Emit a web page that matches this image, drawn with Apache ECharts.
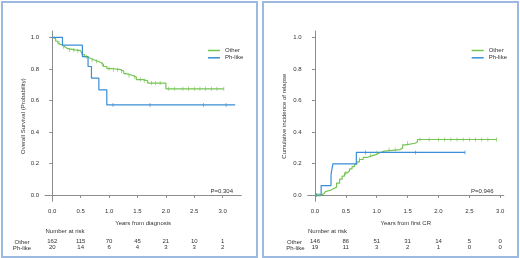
<!DOCTYPE html>
<html>
<head>
<meta charset="utf-8">
<script src="https://cdn.jsdelivr.net/npm/echarts@6/dist/echarts.min.js"></script>
<style>
  html, body { margin: 0; padding: 0; background: #fff; }
  #item { width: 520px; height: 258px; }
</style>
</head>
<body>
<div id="item"></div>
<script>
	var item = echarts.init(document.getElementById('item'));
	/*-- 左图：总生存 (时间, 生存率) --*/
	let osOther = [[0,1],[0.03,0.99],[0.06,0.975],[0.1,0.962],[0.13,0.952],[0.17,0.94],[0.22,0.928],[0.27,0.92],[0.4,0.915],[0.5,0.905],
		[0.53,0.89],[0.57,0.877],[0.62,0.866],[0.68,0.856],[0.74,0.848],[0.8,0.84],[0.86,0.828],[0.9,0.815],[0.96,0.802],[1.05,0.795],
		[1.2,0.785],[1.26,0.77],[1.3,0.758],[1.42,0.748],[1.48,0.732],[1.6,0.724],[1.68,0.71],[2.0,0.673],[3.02,0.673]];
	let osPh = [[0,1],[0.18,0.95],[0.53,0.878],[0.63,0.815],[0.69,0.741],[0.82,0.667],[0.96,0.571],[3.22,0.571]];
	let osOtherCensor = [0.12,0.2,0.3,0.38,0.45,0.6,0.7,0.78,0.88,1.0,1.08,1.15,1.22,1.35,1.45,1.55,1.62,1.75,1.82,1.9,2.05,2.15,2.3,2.4,2.5,2.6,2.7,2.8,2.9,3.02];
	let osPhCensor = [1.07,1.72,2.66,3.06];
	/*-- 右图：累积复发率 --*/
	let cirOther = [[0,0],[0.1,0.007],[0.14,0.014],[0.17,0.021],[0.2,0.03],[0.25,0.04],[0.3,0.05],[0.35,0.075],[0.4,0.1],[0.44,0.12],
		[0.48,0.14],[0.52,0.152],[0.56,0.165],[0.6,0.18],[0.64,0.195],[0.68,0.21],[0.72,0.225],[0.78,0.238],[0.84,0.25],[0.93,0.258],
		[1.0,0.268],[1.05,0.278],[1.12,0.288],[1.38,0.298],[1.42,0.318],[1.47,0.328],[1.62,0.338],[1.66,0.352],[2.94,0.352]];
	let cirPh = [[0,0],[0.1,0.06],[0.26,0.13],[0.29,0.197],[0.67,0.27],[2.43,0.27]];
	let cirOtherCensor = [0.02,0.05,0.08,0.5,0.72,0.9,1.0,1.2,1.3,1.5,1.7,1.85,2.0,2.1,2.2,2.3,2.4,2.5,2.6,2.7,2.8,2.94];
	let cirPhCensor = [0.02,0.82,1.63,2.43];
	/*-- 刻度 --*/
	let xTicksL = [0,0.5,1,1.5,2,2.5,3];
	let xTicksR = [0,0.5,1,1.5,2,2.5,3];
	let yTicks = [0,0.2,0.4,0.6,0.8,1];
	/*-- 风险人数 --*/
	let riskOtherL = [162,115,70,45,21,10,1];
	let riskPhL = [20,14,6,4,3,3,2];
	let riskOtherR = [146,86,51,31,14,5,0];
	let riskPhR = [19,11,3,2,1,0,0];

	let green = '#76c453', blue = '#3a8dd6', txt = '#333', axisC = '#8c8c8c';

	//删失点的高度取自阶梯曲线
	function stepAt(steps, t){
		let v = steps[0][1];
		for (let i = 0; i < steps.length; i++) { if (steps[i][0] <= t) v = steps[i][1]; }
		return v;
	}
	function censor(steps, times){ return times.map(function(t){ return [t, stepAt(steps, t)]; }); }

	function mainX(grid, min, max, ticks, name){
		return {
			type: 'value', gridIndex: grid, min: min, max: max,
			name: name, nameLocation: 'middle', nameGap: 19,
			nameTextStyle: { color: txt, fontSize: 6, fontFamily: 'Liberation Sans' },
			axisLine: { show: true, lineStyle: { color: axisC, width: 1 } },
			axisTick: { show: true, length: 3, customValues: ticks, lineStyle: { color: axisC } },
			axisLabel: { customValues: ticks, margin: 7, color: txt, fontSize: 6, fontFamily: 'Liberation Sans',
				formatter: function(v){ return v.toFixed(1); } },
			splitLine: { show: false }
		};
	}
	function riskX(grid, min, max, ticks, counts, offset){
		return {
			type: 'value', gridIndex: grid, min: min, max: max, position: 'bottom', offset: offset,
			axisLine: { show: false }, axisTick: { show: false }, splitLine: { show: false },
			axisLabel: { customValues: ticks, margin: 0, color: txt, fontSize: 6, fontFamily: 'Liberation Sans',
				formatter: function(v){ return String(counts[ticks.indexOf(v)]); } }
		};
	}
	function mainY(grid, name, gap){
		return {
			type: 'value', gridIndex: grid, min: -0.04, max: 1.04,
			name: name, nameLocation: 'middle', nameGap: gap,
			nameTextStyle: { color: txt, fontSize: 6, fontFamily: 'Liberation Sans' },
			axisLine: { show: true, lineStyle: { color: axisC, width: 1 } },
			axisTick: { show: true, length: 3, customValues: yTicks, lineStyle: { color: axisC } },
			axisLabel: { customValues: yTicks, margin: 6, color: txt, fontSize: 6, fontFamily: 'Liberation Sans',
				formatter: function(v){ return v.toFixed(1); } },
			splitLine: { show: false }
		};
	}
	function stepLine(name, data, color, x, y){
		return { name: name, type: 'line', step: 'end', xAxisIndex: x, yAxisIndex: y, data: data,
			showSymbol: false, silent: true, lineStyle: { color: color, width: 1.2 }, itemStyle: { color: color }, z: 2 };
	}
	function ticks(name, data, color, x, y){
		return { name: name, type: 'scatter', xAxisIndex: x, yAxisIndex: y, data: data, silent: true,
			symbol: 'rect', symbolSize: [0.8, 4], itemStyle: { color: color }, z: 3 };
	}
	let legendBase = {
		orient: 'vertical', itemWidth: 12, itemHeight: 1.5, itemGap: 0.3, icon: 'rect',
		data: ['Other', 'Ph-like'],
		textStyle: { color: txt, fontSize: 6, lineHeight: 7, fontFamily: 'Liberation Sans' }
	};
	let small = { fill: txt, fontSize: 6, fontFamily: 'Liberation Sans' };

	let _item = {
		animation: false,
		grid: [
			{ left: 45, top: 31, width: 196.3, height: 170.3 },
			{ left: 307.7, top: 31, width: 196.1, height: 170.3 }
		],
		legend: [
			Object.assign({ left: 203, top: 42 }, legendBase),
			Object.assign({ left: 466.7, top: 42 }, legendBase)
		],
		xAxis: [
			mainX(0, -0.128, 3.328, xTicksL, 'Years from diagnosis'),
			riskX(0, -0.128, 3.328, xTicksL, riskOtherL, 37.4),
			riskX(0, -0.128, 3.328, xTicksL, riskPhL, 43.3),
			mainX(1, -0.1176, 3.0576, xTicksR, 'Years from first CR'),
			riskX(1, -0.1176, 3.0576, xTicksR, riskOtherR, 37.4),
			riskX(1, -0.1176, 3.0576, xTicksR, riskPhR, 43.3)
		],
		yAxis: [
			mainY(0, 'Overall Survival (Probability)', 17),
			mainY(1, 'Cumulative incidence of relapse', 20)
		],
		series: [
			stepLine('Other', osOther, green, 0, 0),
			stepLine('Ph-like', osPh, blue, 0, 0),
			ticks('Other', censor(osOther, osOtherCensor), green, 0, 0),
			ticks('Ph-like', censor(osPh, osPhCensor), blue, 0, 0),
			stepLine('Other', cirOther, green, 3, 1),
			stepLine('Ph-like', cirPh, blue, 3, 1),
			ticks('Other', censor(cirOther, cirOtherCensor), green, 3, 1),
			ticks('Ph-like', censor(cirPh, cirPhCensor), blue, 3, 1)
		],
		graphic: [
			//外框
			{ type: 'rect', shape: { x: 2, y: 2, width: 255, height: 255 }, style: { fill: 'none', stroke: '#9cb9e0', lineWidth: 2 }, silent: true },
			{ type: 'rect', shape: { x: 263, y: 2, width: 255, height: 255 }, style: { fill: 'none', stroke: '#9cb9e0', lineWidth: 2 }, silent: true },
			{ type: 'text', x: 233, y: 191, style: Object.assign({ text: 'P=0.304', align: 'right', verticalAlign: 'middle' }, small) },
			{ type: 'text', x: 493.5, y: 191, style: Object.assign({ text: 'P=0.946', align: 'right', verticalAlign: 'middle' }, small) },
			{ type: 'text', x: 45.5, y: 231, style: Object.assign({ text: 'Number at risk', align: 'left', verticalAlign: 'middle' }, small) },
			{ type: 'text', x: 308, y: 231, style: Object.assign({ text: 'Number at risk', align: 'left', verticalAlign: 'middle' }, small) },
			{ type: 'text', x: 22, y: 242, style: Object.assign({ text: 'Other', align: 'center', verticalAlign: 'middle' }, small) },
			{ type: 'text', x: 22, y: 248, style: Object.assign({ text: 'Ph-like', align: 'center', verticalAlign: 'middle' }, small) },
			{ type: 'text', x: 302, y: 242, style: Object.assign({ text: 'Other', align: 'right', verticalAlign: 'middle' }, small) },
			{ type: 'text', x: 304.5, y: 248, style: Object.assign({ text: 'Ph-like', align: 'right', verticalAlign: 'middle' }, small) }
		]
	};
	item.setOption(_item);
</script>
</body>
</html>
